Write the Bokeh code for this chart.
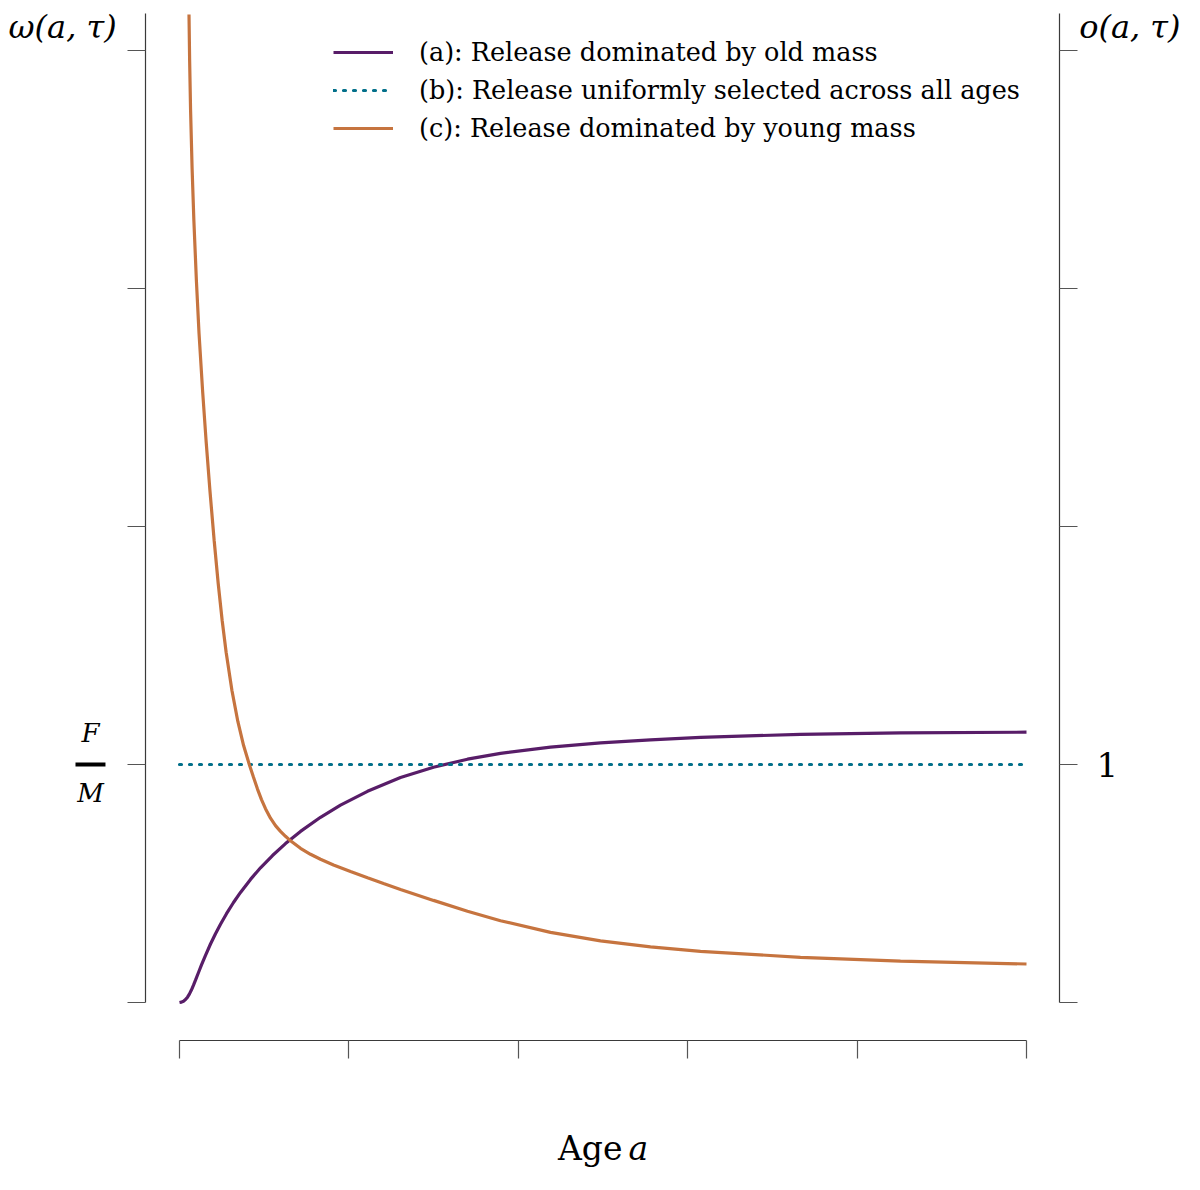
from bokeh.plotting import figure
from bokeh.models import (Range1d, LinearAxis, FixedTicker, Label, Legend,
                          LegendItem, BoxAnnotation)
from bokeh.embed import file_html
from bokeh.resources import INLINE

# ---- data ----
age_a = [0.0, 0.00236, 0.00472, 0.00708, 0.00945, 0.01181, 0.01417, 0.01653,
         0.01889, 0.02243, 0.02597, 0.03070, 0.03660, 0.04250, 0.04840, 0.05549,
         0.06375, 0.07202, 0.08383, 0.09563, 0.10980, 0.12515, 0.14286, 0.16647,
         0.19008, 0.22196, 0.26092, 0.29988, 0.34002, 0.37899, 0.43802, 0.49705,
         0.55608, 0.61511, 0.73318, 0.85124, 1.0]
omega_a = [0.0, 0.0017, 0.0055, 0.0122, 0.0225, 0.0364, 0.0534, 0.0729,
           0.0939, 0.1261, 0.1578, 0.1983, 0.2458, 0.2891, 0.3290, 0.3731,
           0.4202, 0.4626, 0.5172, 0.5660, 0.6176, 0.6676, 0.7189, 0.7782,
           0.8290, 0.8874, 0.9450, 0.9887, 1.0223, 1.0466, 1.0727, 1.0908,
           1.1038, 1.1139, 1.1269, 1.1332, 1.1357]

age_b = [0.0, 1.0]
omega_b = [1.0, 1.0]

age_c = [0.01122, 0.01197, 0.01309, 0.01484, 0.01697, 0.01994, 0.02307, 0.02724,
         0.03137, 0.03592, 0.04093, 0.04570, 0.05038, 0.05510, 0.06192, 0.06888,
         0.07568, 0.08241, 0.08737, 0.09209, 0.09681, 0.10153, 0.10744, 0.11334,
         0.11924, 0.12515, 0.12987, 0.14286, 0.15466, 0.16647, 0.18182, 0.20189,
         0.22196, 0.24085, 0.26092, 0.29988, 0.34002, 0.37899, 0.43802, 0.49705,
         0.55608, 0.61511, 0.73318, 0.85124, 1.0]
omega_c = [4.1513, 3.9580, 3.7479, 3.5084, 3.2857, 3.0336, 2.8109, 2.5714,
           2.3613, 2.1513, 1.9412, 1.7605, 1.6050, 1.4706, 1.3109, 1.1807,
           1.0798, 1.0000, 0.9462, 0.8966, 0.8525, 0.8143, 0.7744, 0.7433,
           0.7191, 0.6983, 0.6832, 0.6479, 0.6227, 0.6017, 0.5777, 0.5500,
           0.5239, 0.5000, 0.4752, 0.4290, 0.3836, 0.3437, 0.2945, 0.2588,
           0.2336, 0.2151, 0.1899, 0.1739, 0.1618]

y_ticks = [0, 1, 2, 3, 4]
x_ticks = [0, 0.2, 0.4, 0.6, 0.8, 1.0]
legend_labels = ["(a): Release dominated by old mass",
                 "(b): Release uniformly selected across all ages",
                 "(c): Release dominated by young mass"]
left_title = "ω(a, τ)"
right_title = "o(a, τ)"
x_title = ["Age", "a"]
level_label = ["F", "M"]

PURPLE = "#581d68"
TEAL = "#03708a"
ORANGE = "#c6743f"
SERIF = "DejaVu Serif"

W, H = 1184, 1174
p = figure(width=W, height=H,
           x_range=Range1d(-0.211334, 1.186541), y_range=Range1d(-0.722689, 4.210084),
           output_backend="svg", toolbar_location=None,
           x_axis_location=None, y_axis_location=None, min_border=0,
           min_border_left=0, min_border_right=0, min_border_top=0,
           min_border_bottom=0)
p.outline_line_color = None
p.background_fill_color = "white"
p.border_fill_color = "white"
p.xgrid.visible = False
p.ygrid.visible = False


def style_axis(ax, ticks, bounds, loc):
    ax.ticker = FixedTicker(ticks=ticks)
    ax.bounds = bounds
    ax.fixed_location = loc
    ax.axis_line_color = "#3a3a3a"
    ax.axis_line_width = 1.2
    ax.major_tick_line_color = "#555555"
    ax.major_tick_line_width = 1.2
    ax.major_tick_out = 18
    ax.major_tick_in = 0
    ax.minor_tick_out = 0
    ax.minor_tick_in = 0
    ax.major_label_overrides = {t: "" for t in ticks}


xax = LinearAxis()
style_axis(xax, x_ticks, (0, 1), -0.15966)
p.add_layout(xax, "below")

yl = LinearAxis()
style_axis(yl, y_ticks, (0, 4.1555), -0.04014)
p.add_layout(yl, "left")

yr = LinearAxis()
style_axis(yr, y_ticks, (0, 4.1555), 1.03896)
yr.major_label_overrides = {t: ("1" if t == 1 else "") for t in y_ticks}
yr.major_label_text_font = SERIF
yr.major_label_text_font_size = "34px"
yr.major_label_text_color = "black"
yr.major_label_standoff = 19
p.add_layout(yr, "right")

ra = p.line(age_a, omega_a, line_color=PURPLE, line_width=3.2)
rb = p.line(age_b, omega_b, line_color=TEAL, line_width=3.2, line_dash="2 8",
            line_cap="round")
rc = p.line(age_c, omega_c, line_color=ORANGE, line_width=3.2)

legend = Legend(items=[LegendItem(label=legend_labels[0], renderers=[ra]),
                       LegendItem(label=legend_labels[1], renderers=[rb]),
                       LegendItem(label=legend_labels[2], renderers=[rc])],
                location=(333, 1031), padding=0, margin=0, spacing=8,
                glyph_width=60, glyph_height=30, label_height=30,
                label_standoff=26, label_text_font=SERIF,
                label_text_font_size="25.5px", label_text_color="black",
                border_line_color=None, background_fill_alpha=0)
p.add_layout(legend)


def add_text(x, y, text, size, italic=True, align="left", baseline="middle"):
    p.add_layout(Label(x=x, y=y, text=text, text_font=SERIF,
                       text_font_style="italic" if italic else "normal",
                       text_font_size=size, text_align=align,
                       text_baseline=baseline, text_color="black"))


add_text(-0.2019, 4.1008, left_title, "32px")
add_text(1.1818, 4.1008, right_title, "32px", align="right")

# F / M fraction label of the level 1 on the left axis
add_text(-0.1051, 1.1303, level_label[0], "26px", align="center")
add_text(-0.1051, 0.8782, level_label[1], "26px", align="center")
p.add_layout(BoxAnnotation(left=-0.1228, right=-0.0874, bottom=0.9916, top=1.0084,
                           fill_color="black", fill_alpha=1.0, line_color=None))

# x axis title
add_text(0.523, -0.6134, x_title[0], "33px", italic=False, align="right")
add_text(0.530, -0.6134, x_title[1], "33px", italic=True, align="left")

open("out.html", "w").write(file_html(p, INLINE))
